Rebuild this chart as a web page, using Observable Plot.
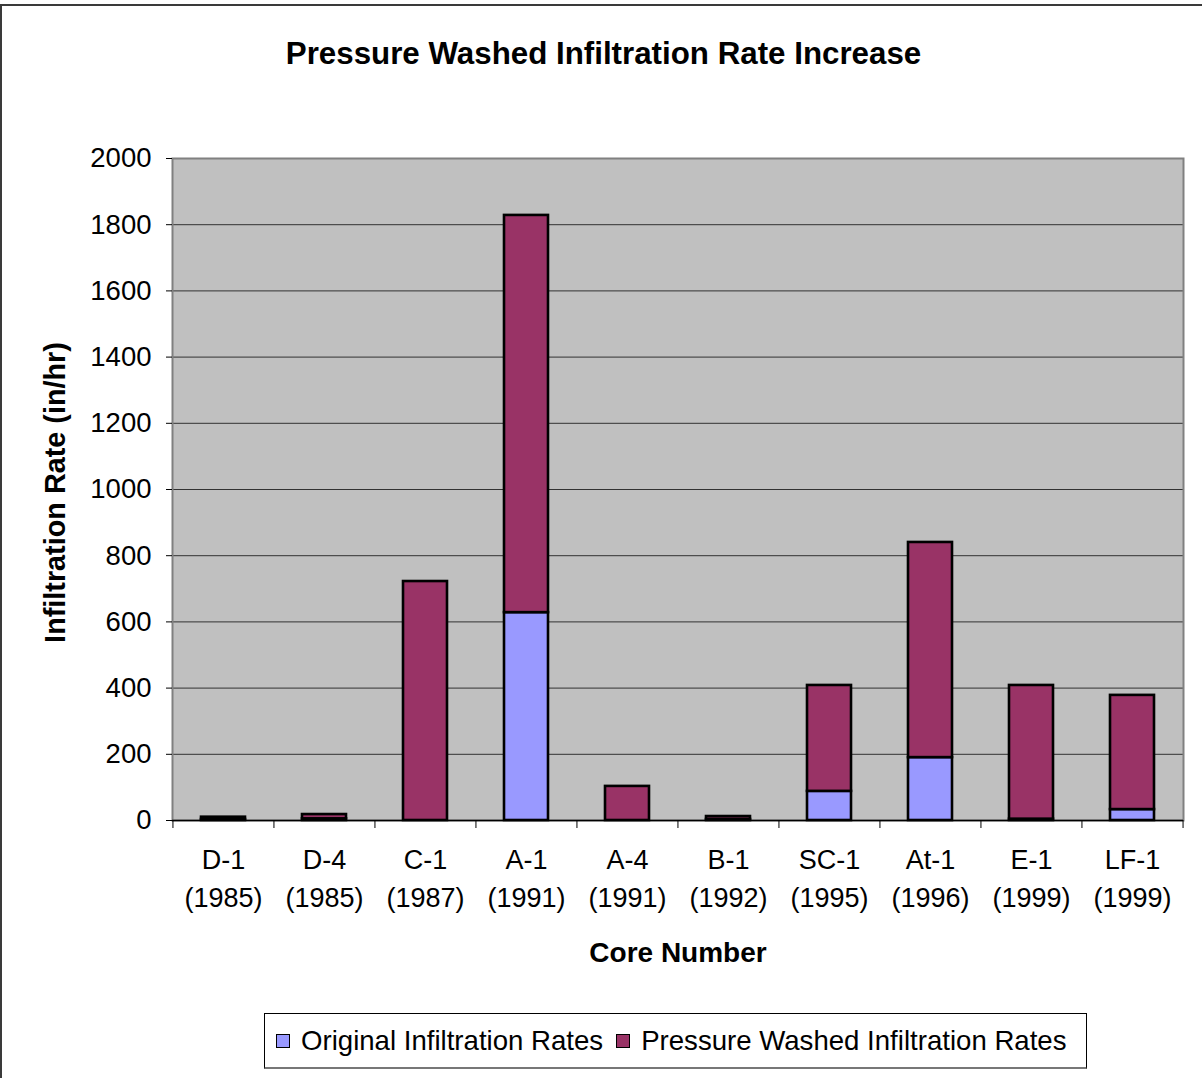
<!DOCTYPE html>
<html>
<head>
<meta charset="utf-8">
<script src="https://cdn.jsdelivr.net/npm/d3@7"></script>
<script src="https://cdn.jsdelivr.net/npm/@observablehq/plot@0.6"></script>
<style>
  html, body { margin: 0; padding: 0; background: #fff; overflow: hidden; }
  body { width: 1202px; height: 1078px; position: relative; font-family: "Liberation Sans", Arial, sans-serif; }
  #border { position: absolute; left: 0px; top: 4px; width: 1230px; height: 1100px; border: 2px solid #3a3a3a; box-sizing: border-box; }
  #title { position: absolute; left: 0; width: 1207px; top: 36px; text-align: center; font-weight: bold; font-size: 31.3px; color: #000; }
  #chart { position: absolute; left: 0; top: 0; }
  #legend { position: absolute; left: 264px; top: 1013px; width: 823px; height: 56px; border: 1px solid #000; border-bottom: 2px solid #777; box-sizing: border-box; background: #fff; display: flex; align-items: center; font-size: 27.6px; color: #000; }
  .sw { display: inline-block; width: 12px; height: 12px; border: 1.5px solid #000; margin-right: 11px; }
  .item { display: flex; align-items: center; }
</style>
</head>
<body>
<div id="border"></div>
<div id="chart"></div>
<div id="title">Pressure Washed Infiltration Rate Increase</div>
<div id="legend"></div>
<script>
const cores = ["D-1", "D-4", "C-1", "A-1", "A-4", "B-1", "SC-1", "At-1", "E-1", "LF-1"];
const years = ["1985", "1985", "1987", "1991", "1991", "1992", "1995", "1996", "1999", "1999"];
const seriesNames = ["Original Infiltration Rates", "Pressure Washed Infiltration Rates"];
const seriesColors = ["#9999ff", "#993366"];
const originalRates = [3, 5, 0, 628, 0, 3, 88, 190, 4, 33];
const pressureWashedRates = [7, 13, 722, 1200, 103, 9, 320, 650, 404, 345];
const yTicks = [0, 200, 400, 600, 800, 1000, 1200, 1400, 1600, 1800, 2000];

const rows = [];
cores.forEach((c, i) => {
  if (originalRates[i] > 0) rows.push({core: c, series: seriesNames[0], value: originalRates[i]});
  if (pressureWashedRates[i] > 0) rows.push({core: c, series: seriesNames[1], value: pressureWashedRates[i]});
});

const W = 1202, H = 1078, mL = 172, mR = 19, mT = 158, mB = 258;
const step = (W - mL - mR) / cores.length;
const pad = 0.565;

const chart = Plot.plot({
  width: W, height: H,
  marginLeft: mL, marginRight: mR, marginTop: mT, marginBottom: mB,
  style: { background: "transparent", fontFamily: "'Liberation Sans', Arial, sans-serif", color: "#000", overflow: "visible" },
  x: { domain: cores, paddingInner: pad, paddingOuter: pad / 2, label: null },
  y: { domain: [0, 2000], label: null },
  color: { domain: seriesNames, range: seriesColors },
  marks: [
    Plot.frame({ fill: "#c0c0c0" }),
    Plot.gridY(yTicks, { stroke: "#222", strokeOpacity: 0.9, strokeWidth: 1 }),
    Plot.frame({ stroke: "#808080", strokeWidth: 2 }),
    Plot.barY(rows, { x: "core", y: "value", fill: "series", stroke: "#000", strokeWidth: 2.6, order: seriesNames }),
    Plot.ruleY([0], { stroke: "#000", strokeWidth: 1.5 }),
    Plot.axisY(yTicks, { tickSize: 6, tickPadding: 15, fontSize: 27.5, stroke: "#000", tickFormat: d => String(d), label: null }),
    Plot.axisX(cores, { tickSize: 8, tickFormat: null, dx: -step / 2, stroke: "#000", label: null }),
    Plot.axisX([cores[cores.length - 1]], { tickSize: 8, tickFormat: null, dx: step / 2, stroke: "#000", label: null }),
    Plot.axisX(cores, { tickSize: 0, tickPadding: 21, fontSize: 27, lineHeight: 1.42, tickFormat: d => d + "\n(" + years[cores.indexOf(d)] + ")", label: null }),
    Plot.text(["Core Number"], { frameAnchor: "bottom", dy: 141, fontSize: 28, fontWeight: "bold", text: d => d }),
    Plot.text(["Infiltration Rate (in/hr)"], { frameAnchor: "left", textAnchor: "middle", dx: -117, dy: 3, rotate: -90, fontSize: 28.8, fontWeight: "bold", text: d => d })
  ]
});
document.getElementById("chart").appendChild(chart);

const legend = document.getElementById("legend");
seriesNames.forEach((name, i) => {
  const item = document.createElement("div");
  item.className = "item";
  item.style.marginLeft = i === 0 ? "11px" : "13px";
  const sw = document.createElement("span");
  sw.className = "sw";
  sw.style.background = seriesColors[i];
  const t = document.createElement("span");
  t.textContent = name;
  item.appendChild(sw);
  item.appendChild(t);
  legend.appendChild(item);
});
</script>
</body>
</html>
